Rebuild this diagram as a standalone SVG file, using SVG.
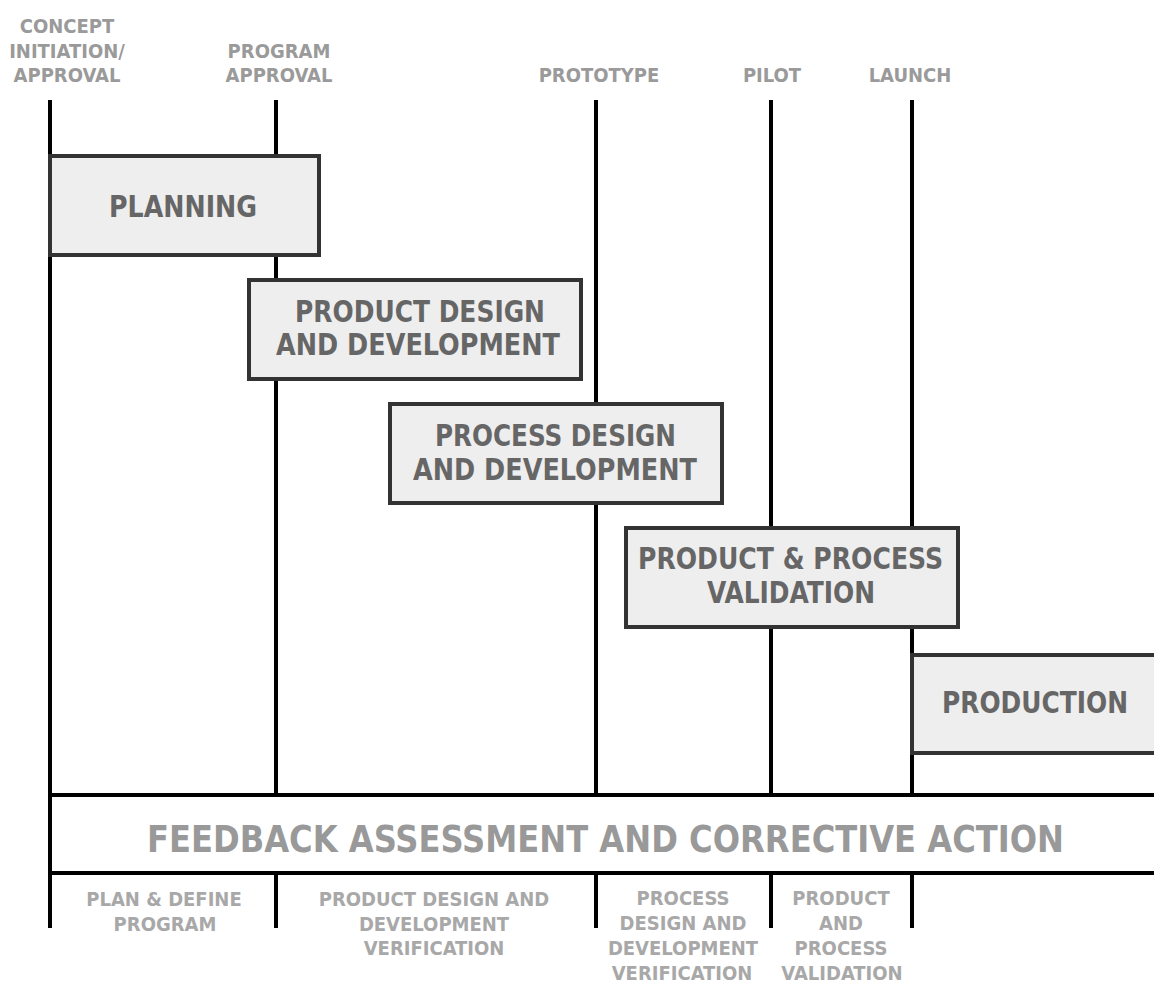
<svg xmlns="http://www.w3.org/2000/svg" width="1154" height="983" viewBox="0 0 1154 983">
<style>
text{font-family:"DejaVu Sans Condensed","DejaVu Sans",sans-serif;font-stretch:condensed;font-weight:bold;text-anchor:middle}
.ms{font-size:20px;fill:#9a9a9a}
.bl{font-size:20px;fill:#a8a8a8}
.bx{fill:#eeeeee;stroke:#333333;stroke-width:4}
.bt{font-size:30px;fill:#666666}
.ln{stroke:#000;stroke-width:4;fill:none}
</style>
<rect width="1154" height="983" fill="#fff"/>
<g id="milestones">
<text class="ms" x="67" y="33">CONCEPT</text>
<text class="ms" x="67" y="58">INITIATION/</text>
<text class="ms" x="67" y="82">APPROVAL</text>
<text class="ms" x="279" y="58">PROGRAM</text>
<text class="ms" x="279" y="82">APPROVAL</text>
<text class="ms" x="599" y="82">PROTOTYPE</text>
<text class="ms" x="772" y="82">PILOT</text>
<text class="ms" x="910" y="82">LAUNCH</text>
</g>
<g id="connectors">
<line class="ln" x1="50" y1="100" x2="50" y2="928"/>
<line class="ln" x1="276" y1="100" x2="276" y2="928"/>
<line class="ln" x1="596" y1="100" x2="596" y2="928"/>
<line class="ln" x1="771" y1="100" x2="771" y2="928"/>
<line class="ln" x1="912" y1="100" x2="912" y2="928"/>
<line class="ln" x1="48" y1="795" x2="1154" y2="795"/>
<line class="ln" x1="48" y1="873" x2="1154" y2="873"/>
</g>
<g id="feedback">
<rect x="52" y="797" width="1102" height="74" fill="#fff"/>
<text x="605.5" y="852" textLength="917" lengthAdjust="spacingAndGlyphs" style="font-size:37px;fill:#999999">FEEDBACK ASSESSMENT AND CORRECTIVE ACTION</text>
</g>
<g id="planning">
<rect class="bx" x="50" y="156" width="269" height="99"/>
<text class="bt" x="183" y="217" textLength="148" lengthAdjust="spacingAndGlyphs">PLANNING</text>
</g>
<g id="product-design">
<rect class="bx" x="249" y="280" width="332" height="99"/>
<text class="bt" x="420" y="322" textLength="250" lengthAdjust="spacingAndGlyphs">PRODUCT DESIGN</text>
<text class="bt" x="418" y="355" textLength="284" lengthAdjust="spacingAndGlyphs">AND DEVELOPMENT</text>
</g>
<g id="process-design">
<rect class="bx" x="390" y="404" width="332" height="99"/>
<text class="bt" x="555.5" y="446" textLength="241" lengthAdjust="spacingAndGlyphs">PROCESS DESIGN</text>
<text class="bt" x="555" y="480" textLength="284" lengthAdjust="spacingAndGlyphs">AND DEVELOPMENT</text>
</g>
<g id="validation">
<rect class="bx" x="626" y="528" width="332" height="99"/>
<text class="bt" x="790.5" y="569" textLength="305" lengthAdjust="spacingAndGlyphs">PRODUCT &amp; PROCESS</text>
<text class="bt" x="791" y="603" textLength="168" lengthAdjust="spacingAndGlyphs">VALIDATION</text>
</g>
<g id="production">
<rect class="bx" x="912" y="655" width="246" height="98"/>
<text class="bt" x="1035" y="713" textLength="186" lengthAdjust="spacingAndGlyphs">PRODUCTION</text>
</g>
<g id="phases">
<text class="bl" x="164" y="906">PLAN &amp; DEFINE</text>
<text class="bl" x="165" y="931">PROGRAM</text>
<text class="bl" x="434" y="906">PRODUCT DESIGN AND</text>
<text class="bl" x="434" y="931">DEVELOPMENT</text>
<text class="bl" x="434" y="955">VERIFICATION</text>
<text class="bl" x="683" y="905">PROCESS</text>
<text class="bl" x="683" y="930">DESIGN AND</text>
<text class="bl" x="683" y="955">DEVELOPMENT</text>
<text class="bl" x="682" y="980">VERIFICATION</text>
<text class="bl" x="841" y="905">PRODUCT</text>
<text class="bl" x="841" y="930">AND</text>
<text class="bl" x="841" y="955">PROCESS</text>
<text class="bl" x="842" y="980">VALIDATION</text>
</g>
</svg>
